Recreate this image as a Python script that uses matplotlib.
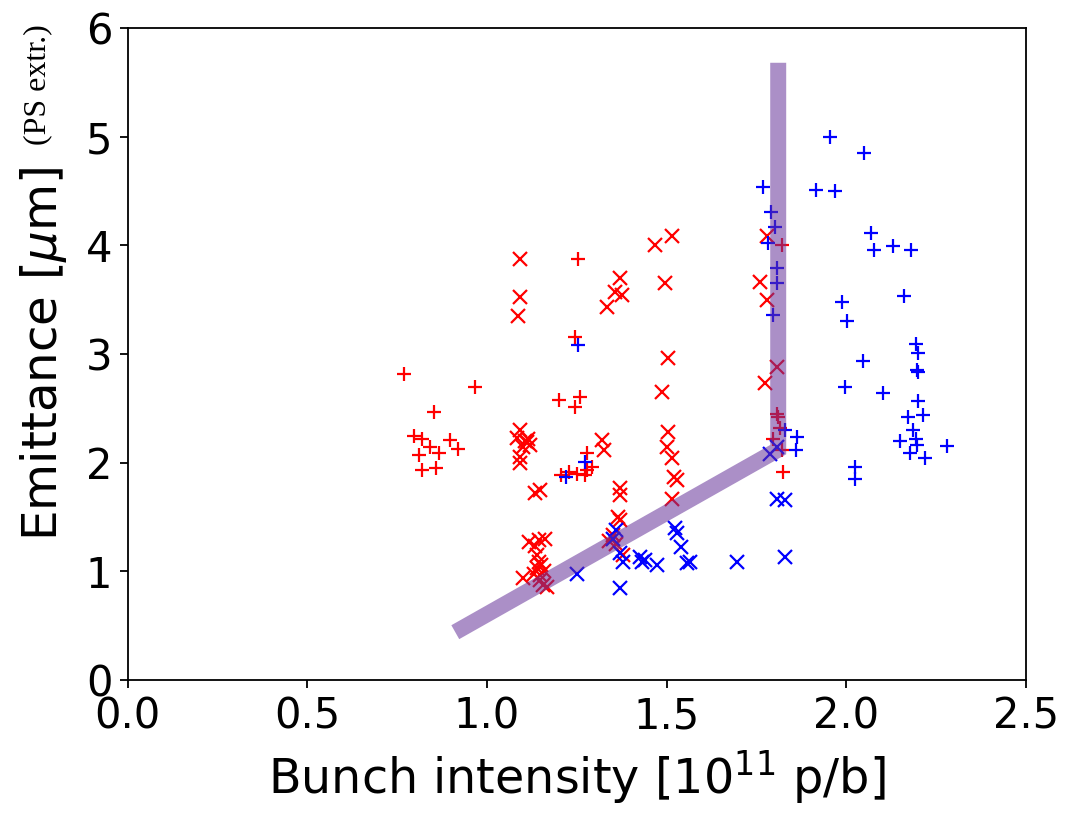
import matplotlib
matplotlib.use("Agg")
import matplotlib.pyplot as plt

# Red '+' series
red_plus_x = [0.77, 0.967, 0.853, 0.797, 0.819, 0.842, 0.867, 0.811, 0.898, 0.919, 0.819, 0.858,
              1.254, 1.245, 1.201, 1.259, 1.245,
              1.278, 1.293, 1.207, 1.229, 1.251, 1.273, 1.278,
              1.822, 1.807, 1.81, 1.816, 1.797, 1.822, 1.825]
red_plus_y = [2.82, 2.70, 2.47, 2.25, 2.22, 2.14, 2.09, 2.07, 2.21, 2.13, 1.93, 1.95,
              3.87, 3.16, 2.58, 2.60, 2.51,
              2.09, 1.96, 1.89, 1.91, 1.90, 1.89, 1.93,
              4.00, 2.45, 2.42, 2.32, 2.22, 2.12, 1.91]

# Red 'x' series
red_x_x = [1.093, 1.093, 1.087,
           1.093, 1.084, 1.111, 1.12, 1.10, 1.093, 1.093, 1.105, 1.115,
           1.134, 1.148,
           1.116, 1.145, 1.163, 1.134, 1.14, 1.145, 1.14, 1.13, 1.148, 1.10, 1.148, 1.157, 1.166, 1.15, 1.16,
           1.37, 1.357, 1.376, 1.334,
           1.468, 1.516, 1.496,
           1.505, 1.487, 1.505, 1.50, 1.516, 1.52, 1.53, 1.516,
           1.32, 1.325,
           1.371, 1.371, 1.366, 1.371, 1.351, 1.34, 1.38, 1.36,
           1.78, 1.76, 1.78, 1.807, 1.775]
red_x_y = [3.87, 3.52, 3.35,
           2.30, 2.23, 2.19, 2.16, 2.14, 2.05, 2.00, 2.20, 2.22,
           1.72, 1.75,
           1.27, 1.29, 1.30, 1.23, 1.15, 1.09, 1.03, 0.98, 0.97, 0.94, 0.92, 0.87, 0.86, 1.06, 1.00,
           3.70, 3.57, 3.54, 3.43,
           4.00, 4.09, 3.65,
           2.96, 2.65, 2.28, 2.14, 2.04, 1.87, 1.84, 1.67,
           2.21, 2.12,
           1.77, 1.70, 1.50, 1.47, 1.33, 1.28, 1.15, 1.25,
           4.09, 3.66, 3.50, 2.88, 2.73]

# Blue '+' series
blue_plus_x = [1.254, 1.273, 1.220,
               1.955, 2.05, 1.768, 1.916, 1.969, 1.79, 1.802, 1.782, 2.07, 2.078, 2.13, 2.18,
               1.807, 1.807, 1.989, 2.161, 1.797, 2.003, 2.195, 2.20, 2.197, 2.20, 2.047,
               1.997, 2.103, 2.20, 2.172, 2.214, 2.186, 2.15, 2.195, 2.197, 2.178, 2.22,
               2.281, 2.025, 2.025, 1.863, 1.86, 1.83]
blue_plus_y = [3.08, 2.01, 1.87,
               5.00, 4.85, 4.54, 4.51, 4.50, 4.31, 4.17, 4.02, 4.11, 3.96, 3.99, 3.96,
               3.79, 3.65, 3.48, 3.53, 3.36, 3.30, 3.09, 3.01, 2.85, 2.83, 2.94,
               2.70, 2.64, 2.57, 2.42, 2.44, 2.30, 2.20, 2.22, 2.16, 2.09, 2.04,
               2.15, 1.96, 1.85, 2.24, 2.12, 2.30]

# Blue 'x' series
blue_x_x = [1.251, 1.36, 1.37, 1.38, 1.37, 1.525, 1.53, 1.54, 1.557, 1.566,
            1.426, 1.44, 1.432, 1.474, 1.696, 1.83, 1.807, 1.83, 1.788, 1.807, 1.35]
blue_x_y = [0.98, 1.38, 1.17, 1.09, 0.85, 1.40, 1.35, 1.22, 1.08, 1.09,
            1.13, 1.10, 1.09, 1.06, 1.09, 1.13, 1.67, 1.66, 2.08, 2.14, 1.30]

# Guide line
guide_x = [0.912, 1.811, 1.811]
guide_y = [0.44, 2.12, 5.68]

xticks = [0.0, 0.5, 1.0, 1.5, 2.0, 2.5]
yticks = [0, 1, 2, 3, 4, 5, 6]

W, H = 1069, 814
fig = plt.figure(figsize=(W / 100, H / 100), dpi=100)
ax = fig.add_axes([127.7 / W, 1 - 680 / H, (1025.7 - 127.7) / W, (680 - 28) / H])

ms, mew = 9.5, 1.6
ax.plot(red_plus_x, red_plus_y, '+', color='r', ms=ms, mew=mew, ls='none')
ax.plot(red_x_x, red_x_y, 'x', color='r', ms=ms, mew=mew, ls='none')
ax.plot(blue_plus_x, blue_plus_y, '+', color='b', ms=ms, mew=mew, ls='none')
ax.plot(blue_x_x, blue_x_y, 'x', color='b', ms=ms, mew=mew, ls='none')
ax.plot(guide_x, guide_y, '-', color='rebeccapurple', alpha=0.55, lw=11.5,
        solid_capstyle='butt', solid_joinstyle='miter')

ax.set_xlim(0, 2.5)
ax.set_ylim(0, 6)
ax.set_xticks(xticks)
ax.set_xticklabels([f"{t:.1f}" for t in xticks])
ax.set_yticks(yticks)
ax.set_yticklabels([str(t) for t in yticks])
ax.tick_params(labelsize=30, length=6, width=1.3, pad=5)
for s in ax.spines.values():
    s.set_linewidth(1.3)

ax.set_xlabel(r"Bunch intensity [$10^{11}$ p/b]", fontsize=34.3, labelpad=8)

fig.text(44 / W, 1 - 354 / H, r"Emittance [$\mu$m]", rotation=90, fontsize=34.8,
         ha='center', va='center')
fig.text(38 / W, 1 - 85 / H, "(PS extr.)", rotation=90, fontsize=23,
         family='Liberation Serif', ha='center', va='center')

fig.savefig("out.png", dpi=100)
